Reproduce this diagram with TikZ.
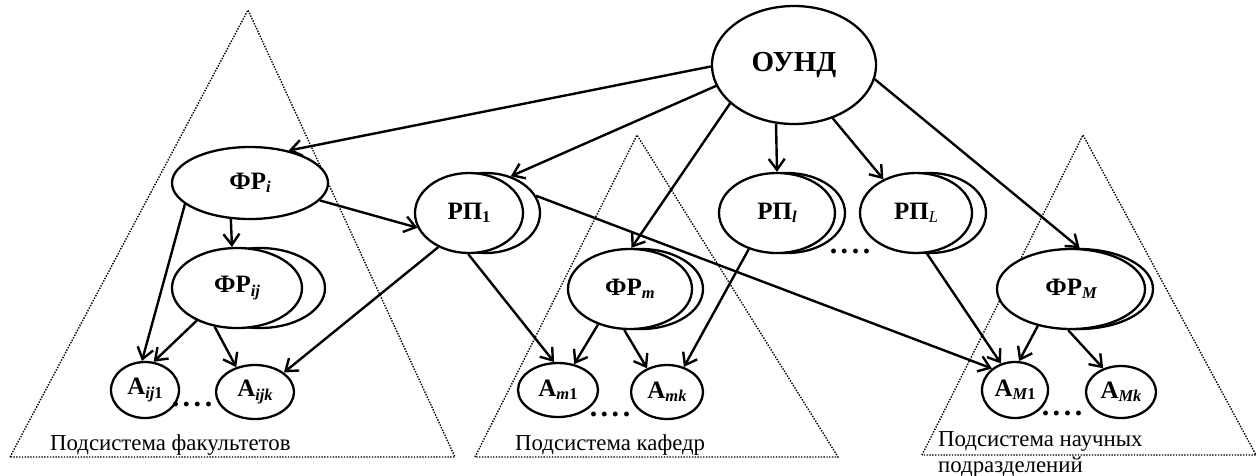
\documentclass[tikz,border=0pt]{standalone}
\usepackage{fontspec}
\setmainfont{Liberation Serif}
\usetikzlibrary{shapes.geometric,arrows.meta}
\newcommand{\sbs}[1]{\raisebox{-0.3ex}{\fontsize{16.5}{16.5}\selectfont #1}}
\newcommand{\fdots}{.\kern3.5pt.\kern3.5pt.\kern3.5pt.}
\begin{document}
\begin{tikzpicture}[x=1pt,y=-1pt,
 nd/.style={ellipse,draw,line width=2.3pt,fill=white,inner sep=0pt,font=\fontsize{25}{25}\selectfont\bfseries},
 arr/.style={line width=2.4pt,-{Straight Barb[length=11pt,width=16pt]}},
 tri/.style={line width=1.4pt,dash pattern=on 1.4pt off 1.4pt},
 captxt/.style={anchor=base west,inner sep=0pt,font=\fontsize{22.8}{22.8}\selectfont},
 dts/.style={anchor=base,inner sep=0pt,font=\fontsize{30}{30}\selectfont\bfseries}]
\useasboundingbox (0,0) rectangle (1258,475);
% subsystem triangles
\draw[tri] (10,457) -- (248,10) -- (455,457) -- cycle;
\draw[tri] (475,457) -- (637,135) -- (838,457) -- cycle;
\draw[tri] (922,455) -- (1083,135) -- (1256,455) -- cycle;
% captions
\node[captxt] (cap1) at (50,450) {Подсистема факультетов};
\node[captxt] (cap2) at (515,450) {Подсистема кафедр};
\node[captxt] (cap3a) at (938,446) {Подсистема научных};
\node[captxt] (cap3b) at (938,472) {подразделений};
% nodes
\node[nd,minimum width=164pt,minimum height=118pt,font=\fontsize{29}{29}\selectfont\bfseries] (ound) at (794,65) {ОУНД};
\node[nd,minimum width=156pt,minimum height=72pt] (fri) at (250,183) {ФР\sbs{\itshape i}};
\node[nd,minimum width=130pt,minimum height=80pt] (frijb) at (260,288) {};
\node[nd,minimum width=130pt,minimum height=80pt] (frij) at (237,288) {ФР\sbs{\itshape ij}};
\node[nd,minimum width=68pt,minimum height=56pt] (aij1) at (145,390) {А\sbs{\itshape ij\upshape 1}};
\node[nd,minimum width=78pt,minimum height=54pt] (aijk) at (255,392) {А\sbs{\itshape ijk}};
\node[nd,minimum width=108pt,minimum height=80pt] (rp1b) at (486,213) {};
\node[nd,minimum width=108pt,minimum height=80pt] (rp1) at (469,213) {РП\sbs{1}};
\node[nd,minimum width=124pt,minimum height=80pt] (frmb) at (641,289) {};
\node[nd,minimum width=124pt,minimum height=80pt] (frm) at (630,289) {ФР\sbs{\itshape m}};
\node[nd,minimum width=80pt,minimum height=54pt] (am1) at (558,390) {А\sbs{\itshape m\upshape 1}};
\node[nd,minimum width=72pt,minimum height=54pt] (amk) at (667,392) {А\sbs{\itshape mk}};
\node[nd,minimum width=116pt,minimum height=80pt] (rplb) at (787,213) {};
\node[nd,minimum width=116pt,minimum height=80pt] (rpl) at (777,213) {РП\sbs{\itshape l}};
\node[nd,minimum width=112pt,minimum height=80pt] (rpLb) at (930,213) {};
\node[nd,minimum width=112pt,minimum height=80pt] (rpL) at (916,213) {РП\sbs{\mdseries\itshape L}};
\node[nd,minimum width=148pt,minimum height=80pt] (frMb) at (1079,289) {};
\node[nd,minimum width=148pt,minimum height=80pt] (frM) at (1071,289) {ФР\sbs{\itshape M}};
\node[nd,minimum width=66pt,minimum height=56pt] (aM1) at (1015,390) {А\sbs{\itshape M\upshape 1}};
\node[nd,minimum width=70pt,minimum height=52pt] (aMk) at (1121,392) {А\sbs{\itshape Mk}};
% dots
\node[dts] (d1) at (192,406) {\fdots};
\node[dts] (d2) at (610,416) {\fdots};
\node[dts] (d3) at (850,253) {\fdots};
\node[dts] (d4) at (1062,415) {\fdots};
% connectors
\draw[arr] (ound.181) -- (fri.40);
\draw[arr] (ound.195) -- (rp1b.56);
\draw[arr] (ound.211) -- (frm.88);
\draw[arr] (ound.253) -- (rpl.90);
\draw[arr] (ound.306) -- (rpL.134);
\draw[arr] (ound.350) -- (frM.78);
\draw[arr] (fri.242) -- (frij.97);
\draw[arr] (fri.198) -- (aij1.96);
\draw[arr] (fri.346) -- (rp1.196);
\draw[arr] (frij.219) -- (aij1.73);
\draw[arr] (frij.240) -- (aijk.127);
\draw[arr] (rp1.228) -- (aijk.34);
\draw[arr] (rp1.269) -- (am1.98);
\draw[arr] (rp1b.19) -- (aM1.137);
\draw[arr] (frm.228) -- (am1.58);
\draw[arr] (frm.262) -- (amk.130);
\draw[arr] (rpl.232) -- (amk.56);
\draw[arr] (rpL.285) -- (aM1.118);
\draw[arr] (frM.228) -- (aM1.82);
\draw[arr] (frM.266) -- (aMk.127);
\end{tikzpicture}
\end{document}
